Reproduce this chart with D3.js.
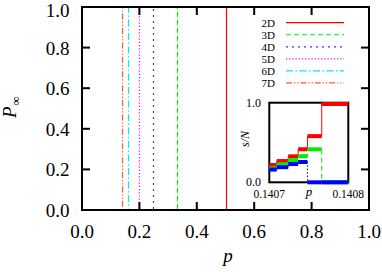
<!DOCTYPE html>
<html><head><meta charset="utf-8">
<script src="https://cdn.jsdelivr.net/npm/d3@7"></script>
<style>body{margin:0;background:#fff}svg{display:block}text{font-family:"Liberation Serif","DejaVu Serif",serif}</style>
</head><body>
<svg id="c" width="382" height="272"></svg>
<script>
// ---- data ----
const series = ["2D","3D","4D","5D","6D","7D"];
const thresholds = [0.5, 0.332, 0.246, 0.198, 0.162, 0.140];
const colors = ["#ff0000","#00ee00","#3333ff","#ff00ff","#00eeee","#ff5a1a"];
const dashes = [null,"5,3","2,4","1.2,2","7,2.5,1.5,2.5","6,2,1.2,2,1.2,2"];
const xTicks = [0,0.2,0.4,0.6,0.8,1.0];
const yTicks = [0,0.2,0.4,0.6,0.8,1.0];
// inset
const insetEdges = [0.14070, 0.14070937, 0.1407239, 0.1407365, 0.1407484, 0.1407664, 0.14080];
const insetRed   = [0.217, 0.267, 0.326, 0.415, 0.58, 0.984];
const insetGreen = [0.176, 0.226, 0.28, 0.328, 0.415, 0.0];
const insetBlue  = [0.16, 0.19, 0.23, 0.255, 0.0, 0.0];
const insetTickLabels = ["0.1407","0.1408"];
const insetYLabels = ["0.0","1.0"];

const svg = d3.select("#c");
const L=82, R=369, T=7, B=210;
const x = d3.scaleLinear().domain([0,1]).range([L,R]);
const y = d3.scaleLinear().domain([0,1]).range([B,T]);

svg.append("clipPath").attr("id","pc").append("rect").attr("x",L).attr("y",T).attr("width",R-L).attr("height",B-T);

const line = d3.line().x(d=>Math.round(x(d[0]))+0.5).y(d=>y(d[1]));
const g = svg.append("g").attr("clip-path","url(#pc)");
series.forEach((s,i)=>{
  const pc = thresholds[i];
  g.append("path").attr("d",line([[0,0],[pc,0],[pc,1],[1,1]]))
   .attr("fill","none").attr("stroke",colors[i]).attr("stroke-width",1.2)
   .attr("stroke-dasharray",dashes[i]);
});

// frame + ticks
svg.append("rect").attr("x",L).attr("y",T).attr("width",R-L).attr("height",B-T)
  .attr("fill","none").attr("stroke","#000").attr("stroke-width",2);
const tl=8;
xTicks.forEach(v=>{
  svg.append("line").attr("x1",x(v)).attr("x2",x(v)).attr("y1",B).attr("y2",B-tl).attr("stroke","#000").attr("stroke-width",2);
  svg.append("line").attr("x1",x(v)).attr("x2",x(v)).attr("y1",T).attr("y2",T+tl).attr("stroke","#000").attr("stroke-width",2);
  svg.append("text").attr("x",x(v)).attr("y",238).attr("text-anchor","middle").attr("font-size",19).text(d3.format(".1f")(v));
});
yTicks.forEach(v=>{
  svg.append("line").attr("x1",L).attr("x2",L+tl).attr("y1",y(v)).attr("y2",y(v)).attr("stroke","#000").attr("stroke-width",2);
  svg.append("line").attr("x1",R).attr("x2",R-tl).attr("y1",y(v)).attr("y2",y(v)).attr("stroke","#000").attr("stroke-width",2);
  svg.append("text").attr("x",69.5).attr("y",Math.max(y(v)+7,17)).attr("text-anchor","end").attr("font-size",19).text(d3.format(".1f")(v));
});
// axis labels
svg.append("text").attr("x",228).attr("y",262).attr("text-anchor","middle").attr("font-size",19).attr("font-style","italic").text("p");
const yl = svg.append("text").attr("transform","translate(16,118) rotate(-90)").attr("font-size",19);
yl.append("tspan").attr("font-style","italic").text("P");
yl.append("tspan").attr("font-size",13).attr("dy",4).attr("dx",1).text("∞");

// legend
series.forEach((s,i)=>{
  const ly = 22.7 + i*12.05;
  svg.append("text").attr("x",275).attr("y",ly+4).attr("text-anchor","end").attr("font-size",11).text(s);
  svg.append("line").attr("x1",286).attr("x2",344).attr("y1",ly).attr("y2",ly)
    .attr("stroke",colors[i]).attr("stroke-width",1.2).attr("stroke-dasharray",dashes[i]);
});

// inset
const iL=269.3, iR=348.3, iT=102.7, iB=182.3;
const ix = d3.scaleLinear().domain([0.1407,0.1408]).range([iL,iR]);
const iy = d3.scaleLinear().domain([0,1]).range([iB,iT]);
svg.append("rect").attr("x",iL).attr("y",iT).attr("width",iR-iL).attr("height",iB-iT)
  .attr("fill","#fff").attr("stroke","#000").attr("stroke-width",2);
const iline = d3.line().x(d=>ix(d[0])).y(d=>iy(d[1])).curve(d3.curveStepAfter);
const insetSeries = [[insetRed,"#ff0000",null],[insetGreen,"#00ee00","5,3"],[insetBlue,"#0000ff","1.5,2"]];
insetSeries.forEach(([vals,col,dash])=>{
  const pts = vals.map((v,k)=>[insetEdges[k],v]);
  pts.push([insetEdges[insetEdges.length-1], vals[vals.length-1]]);
  svg.append("path").attr("d",iline(pts)).attr("fill","none").attr("stroke",col).attr("stroke-width",1).attr("stroke-dasharray",dash);
  vals.forEach((v,k)=>{
    svg.append("line").attr("x1",ix(insetEdges[k])).attr("x2",ix(insetEdges[k+1]))
      .attr("y1",iy(v)).attr("y2",iy(v)).attr("stroke",col).attr("stroke-width",4);
  });
});
insetYLabels.forEach((t,k)=>{
  svg.append("text").attr("x",261).attr("y",iy(k)+4).attr("text-anchor","end").attr("font-size",12).text(t);
});
insetTickLabels.forEach((t,k)=>{
  svg.append("text").attr("x",ix(0.1407+k*0.0001)).attr("y",198).attr("text-anchor","middle").attr("font-size",11.5).text(t);
});
svg.append("text").attr("x",309).attr("y",196).attr("text-anchor","middle").attr("font-size",13).attr("font-style","italic").text("p");
svg.append("text").attr("transform","translate(249,139) rotate(-90)").attr("text-anchor","middle").attr("font-size",12).attr("font-style","italic").text("s/N");
</script>
</body></html>
